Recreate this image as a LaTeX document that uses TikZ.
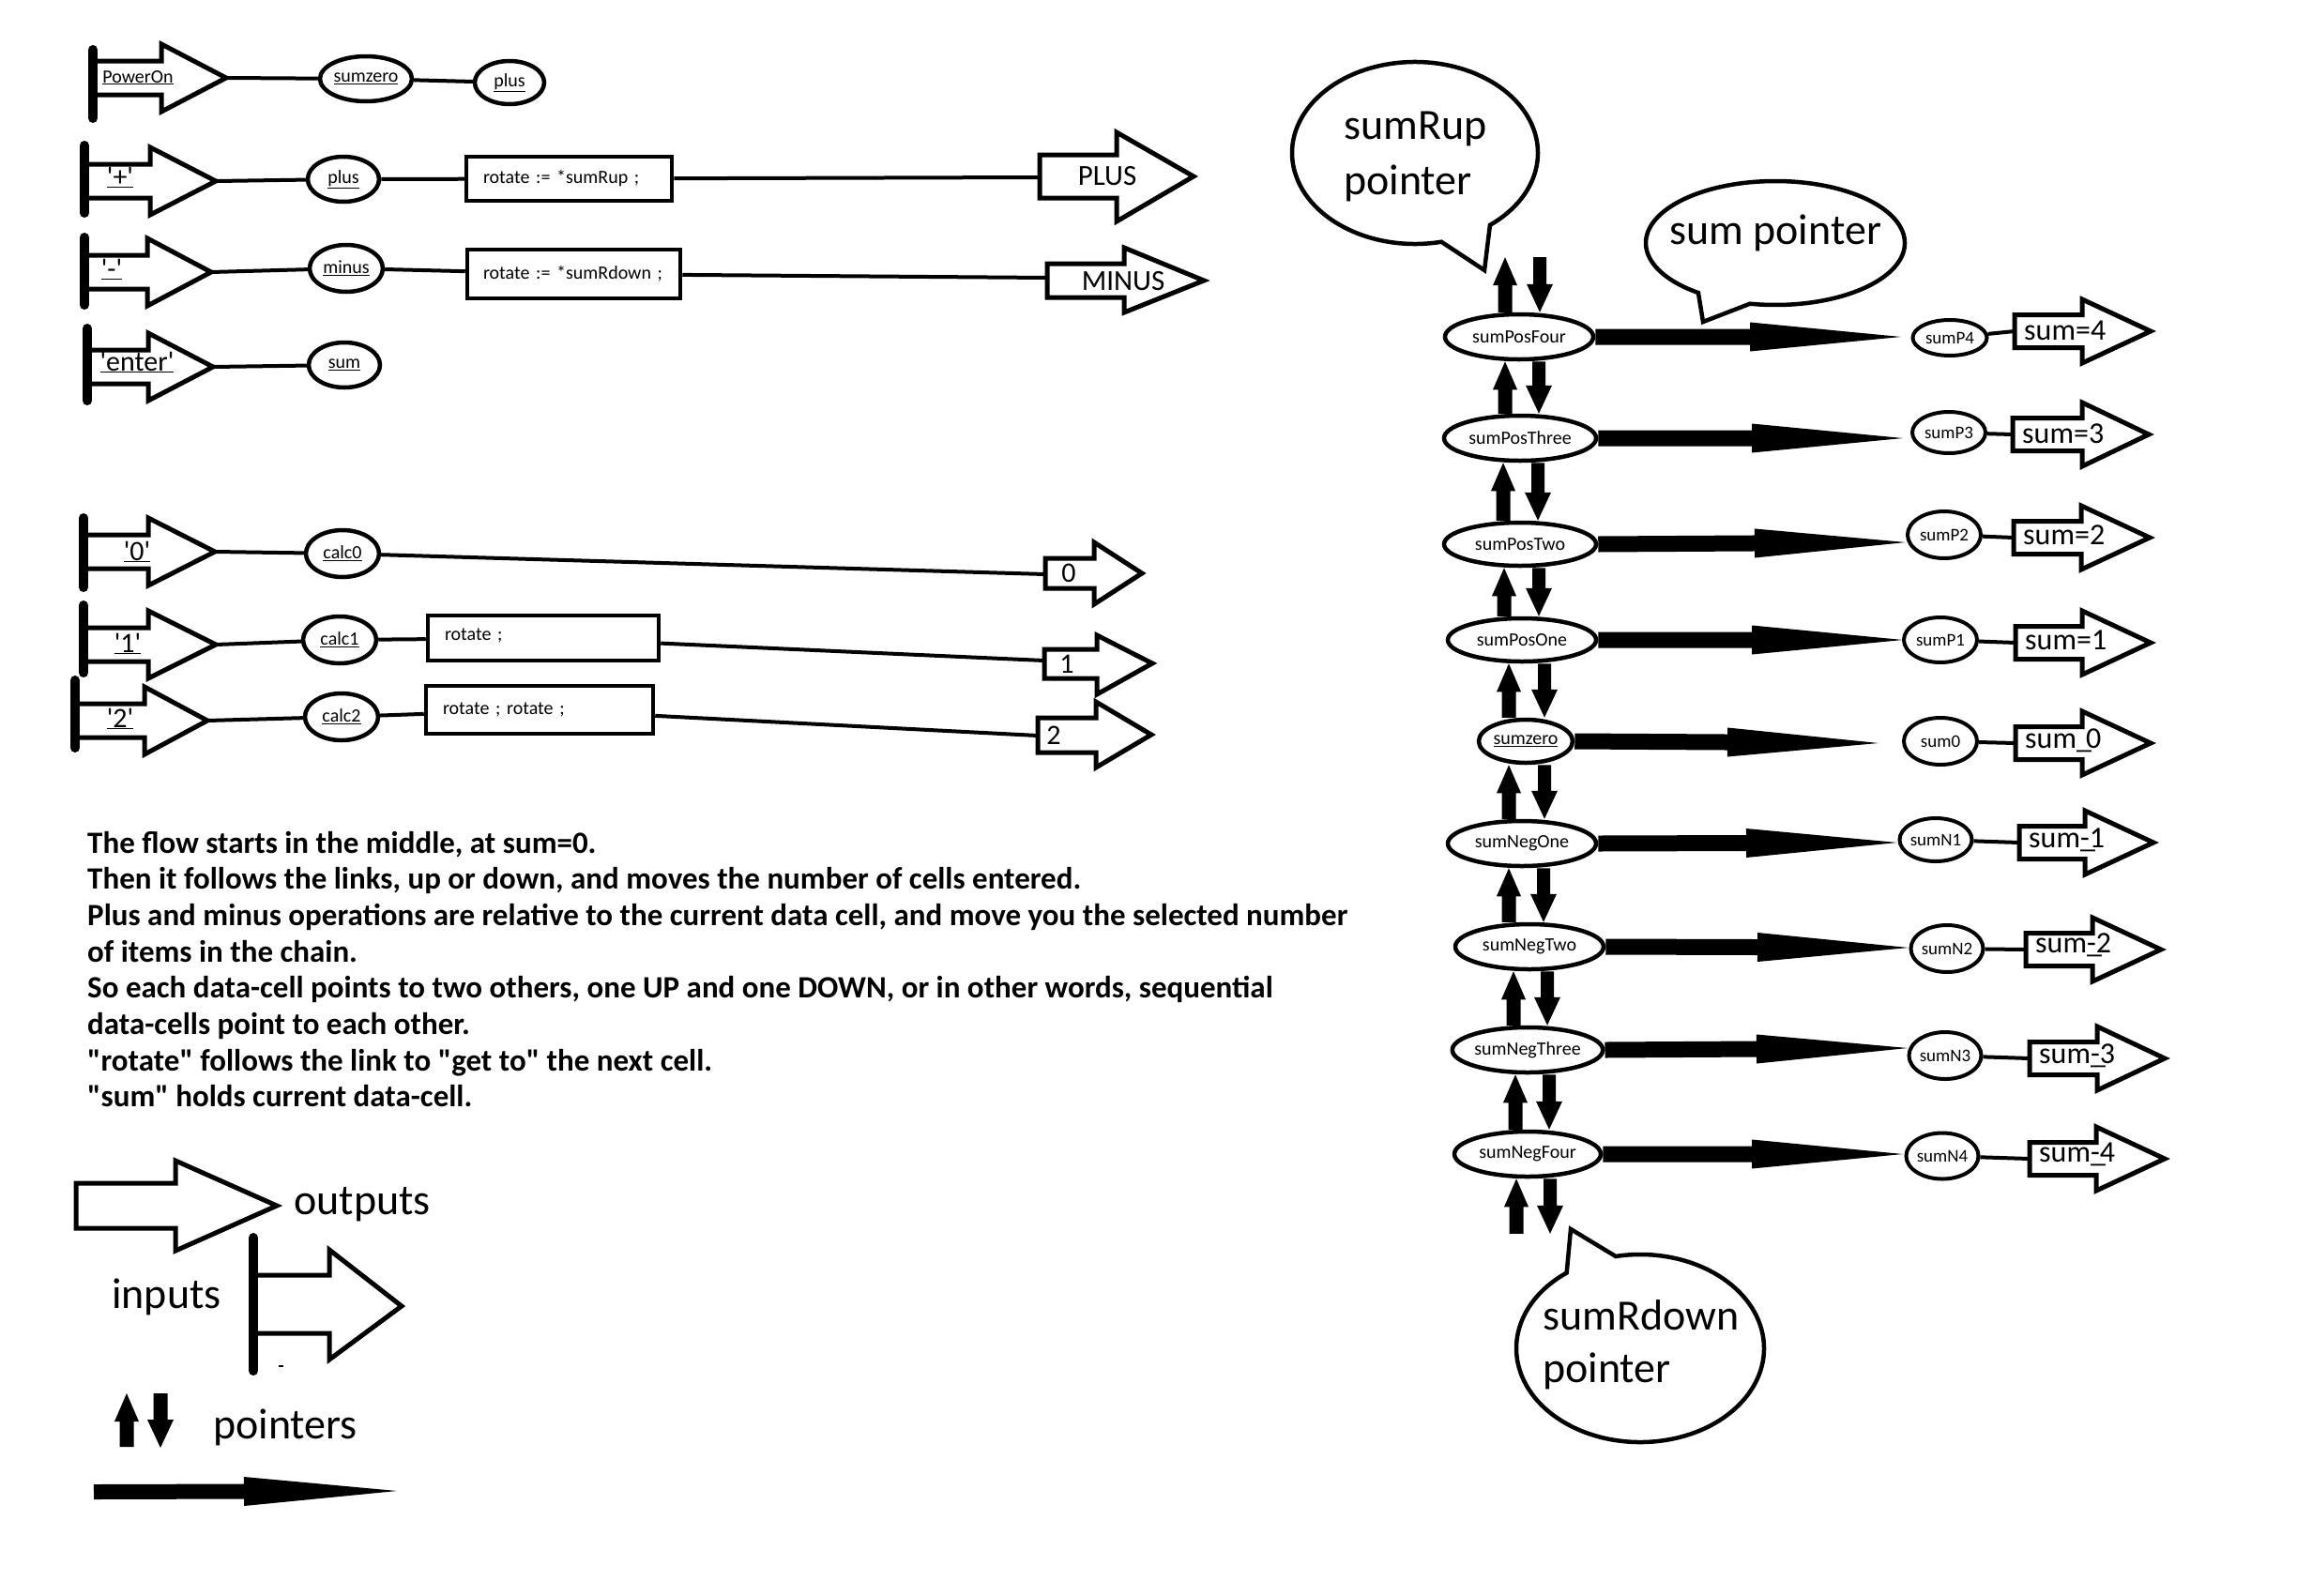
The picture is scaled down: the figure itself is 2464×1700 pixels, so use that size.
\documentclass[tikz,border=0pt]{standalone}
\usepackage{fontspec}
\setmainfont{Carlito}[Ligatures=TeXOff]
\usetikzlibrary{shapes.geometric,calc}

\newcommand\sz[2]{\fontsize{#1}{#2}\selectfont}

\tikzset{
  wire/.style={line width=4pt},
  cellnode/.style={ellipse, draw, line width=4.5pt, fill=white, inner sep=0pt, font=\sz{20}{24}},
  datanode/.style={ellipse, draw, line width=4pt, fill=white, inner sep=0pt, font=\sz{19}{23}},
  opbox/.style={rectangle, draw, line width=4.5pt, fill=white, inner ysep=0pt, align=left, font=\sz{20}{24}},
  blockout/.style={draw, line width=5pt, line join=miter, fill=white},
  openarrow/.style={draw, line width=5pt, line join=miter},
  inbar/.style={line width=10pt, line cap=round},
  inlabel/.style={anchor=base, inner sep=0pt, font=\sz{30}{36}},
  outlabel/.style={inner sep=0pt, font=\sz{31}{37}},
  sumlabel/.style={anchor=base west, inner sep=0pt, font=\sz{32}{38}},
  bubble/.style={draw, line width=4.5pt, fill=white, line join=miter},
  bigtext/.style={anchor=base west, inner sep=0pt, font=\sz{46}{57}},
  anchorpt/.style={inner sep=0pt, minimum size=0pt},
}

% solid arrow: #1 start, #2 tip, #3 half shaft width, #4 half head width, #5 head length
\newcommand\fatarrow[5]{%
  \coordinate (fa-h) at ($(#2)!#5!(#1)$);
  \fill ($(#1)!#3!90:(#2)$) -- ($(fa-h)!#3!90:(#2)$) -- ($(fa-h)!#4!90:(#2)$) -- (#2)
     -- ($(fa-h)!#4!-90:(#2)$) -- ($(fa-h)!#3!-90:(#2)$) -- ($(#1)!#3!-90:(#2)$) -- cycle;}

% pair of UP / DOWN links between two cells: #1 upper, #2 lower, #3 x of up link, #4 x of down link
\newcommand\updown[4]{%
  \path (#3,0) coordinate (ud-u) (#4,0) coordinate (ud-d);
  \coordinate (ud-1) at (ud-u |- #2.north);
  \coordinate (ud-2) at (ud-u |- #1.south);
  \fatarrow{ud-1}{ud-2}{7.5pt}{13pt}{30pt}
  \coordinate (ud-3) at (ud-d |- #1.south);
  \coordinate (ud-4) at (ud-d |- #2.north);
  \fatarrow{ud-3}{ud-4}{7pt}{14pt}{30pt}}

% input arrow with bar: #1 bar x, #2 head base x, #3 tip x, #4 tip y, #5 bar top, #6 bar bottom, #7 tip name
\newcommand\inarrow[7]{%
  \draw[openarrow] (#1,#4-18) -- (#2,#4-18) -- (#2,#4-36) -- (#3,#4) -- (#2,#4+36) -- (#2,#4+18) -- (#1,#4+18);
  \draw[inbar] (#1,#5) -- (#1,#6);
  \coordinate (#7) at (#3,#4);}

% output value arrow: #1 left x, #2 head base x, #3 tip x, #4 centre y, #5 name, #6 text, #7 text baseline
\newcommand\sumarrow[7]{%
  \draw[blockout] (#1,#4-17.5) -- (#2,#4-17.5) -- (#2,#4-34) -- (#3,#4) -- (#2,#4+34) -- (#2,#4+17.5) -- (#1,#4+17.5) -- cycle;
  \node[sumlabel] (#5) at (#1+10,#7) {#6};
  \coordinate (#5in) at (#1,#4);}

% underscore followed closely by a value
\newcommand\usc{\_\kern-6pt}

\begin{document}
\begin{tikzpicture}[x=1pt,y=-1pt]
\useasboundingbox (0,0) rectangle (2464,1700);
\fill[white] (0,0) rectangle (2464,1700);

% ---------------- key inputs ----------------
\inarrow{99}{172}{241}{83}{53}{126}{inPow}
\node[inlabel, font=\sz{20}{24}] (lblPow) at (147,88) {\underline{PowerOn}};
\inarrow{90}{160}{230}{193}{155}{227}{inPlus}
\node[inlabel] (lblPlus) at (128,198) {\underline{'+'}};
\inarrow{90}{157}{225}{290}{253}{325}{inMinus}
\node[inlabel] (lblMinus) at (119,296) {\underline{'-'}};
\inarrow{93}{158}{227}{391}{350}{427}{inEnter}
\node[inlabel] (lblEnter) at (146,395) {\underline{'enter'}};
\inarrow{89}{158}{229}{588}{552}{626}{inZero}
\node[inlabel] (lblZero) at (146,597) {\underline{'0'}};
\inarrow{89}{158}{230}{687}{645}{717}{inOne}
\node[inlabel] (lblOne) at (136,695) {\underline{'1'}};
\inarrow{80}{154}{221}{768}{725}{797}{inTwo}
\node[inlabel] (lblTwo) at (128,775) {\underline{'2'}};

% ---------------- handlers ----------------
\node[cellnode, minimum width=98pt, minimum height=48pt] (sumzeroA) at (390,84) {\underline{sumzero}};
\node[cellnode, minimum width=74pt, minimum height=46pt] (plusA) at (543,88) {\underline{plus}};
\node[cellnode, minimum width=76pt, minimum height=48pt] (plusB) at (366,191) {\underline{plus}};
\node[cellnode, minimum width=78pt, minimum height=50pt] (minusB) at (369,286) {\underline{minus}};
\node[cellnode, minimum width=76pt, minimum height=48pt] (sumB) at (367,389) {\underline{sum}};
\node[cellnode, minimum width=78pt, minimum height=50pt] (calcZero) at (365,590) {\underline{calc0}};
\node[cellnode, minimum width=78pt, minimum height=50pt] (calcOne) at (362,682) {\underline{calc1}};
\node[cellnode, minimum width=78pt, minimum height=50pt] (calcTwo) at (364,764) {\underline{calc2}};

\node[opbox, minimum width=219pt, minimum height=47pt, text width=183pt, inner xsep=18pt] (boxPlus) at (606.5,190.5) {rotate := *sumRup ;};
\node[opbox, minimum width=227pt, minimum height=52pt, text width=193pt, inner xsep=17pt] (boxMinus) at (611.5,292) {rotate := *sumRdown ;};
\node[opbox, minimum width=246pt, minimum height=48pt, text width=210pt, inner xsep=18pt] (boxOne) at (579,680) {\raisebox{7pt}{rotate ;}};
\node[opbox, minimum width=242pt, minimum height=51pt, text width=206pt, inner xsep=18pt] (boxTwo) at (575,756.5) {rotate ; rotate ;};

% ---------------- operation outputs ----------------
\draw[blockout] (1108,165) -- (1190,165) -- (1190,141) -- (1272,188) -- (1190,236) -- (1190,211) -- (1108,211) -- cycle;
\node[outlabel] (outPlus) at (1180,188) {PLUS};
\coordinate (oPlus) at (1108,189);
\draw[blockout] (1116,281) -- (1198,281) -- (1198,264) -- (1283,299) -- (1198,333) -- (1198,317) -- (1116,317) -- cycle;
\node[outlabel] (outMinus) at (1197,300) {MINUS};
\coordinate (oMinus) at (1116,296);
\draw[blockout] (1114,595) -- (1166,595) -- (1166,578) -- (1217,611) -- (1166,644) -- (1166,627) -- (1114,627) -- cycle;
\node[outlabel, font=\sz{30}{36}] (outZero) at (1139,611) {0};
\coordinate (oZero) at (1114,612);
\draw[blockout] (1113,692) -- (1169,692) -- (1169,677) -- (1228,707) -- (1169,740) -- (1169,723) -- (1113,723) -- cycle;
\node[outlabel, font=\sz{30}{36}] (outOne) at (1137,708) {1};
\coordinate (oOne) at (1113,704);
\draw[blockout] (1106,765) -- (1168,765) -- (1168,748) -- (1227,783) -- (1168,818) -- (1168,802) -- (1106,802) -- cycle;
\node[outlabel, font=\sz{30}{36}] (outTwo) at (1123,784) {2};
\coordinate (oTwo) at (1106,784);

% ---------------- left wiring ----------------
\draw[wire] (inPow) -- (sumzeroA);
\draw[wire] (sumzeroA) -- (plusA);
\draw[wire] (inPlus) -- (plusB);
\draw[wire] (plusB) -- (boxPlus);
\draw[wire] (boxPlus) -- (oPlus);
\draw[wire] (inMinus) -- (minusB);
\draw[wire] (minusB) -- (boxMinus);
\draw[wire] (boxMinus) -- (oMinus);
\draw[wire] (inEnter) -- (sumB);
\draw[wire] (inZero) -- (calcZero);
\draw[wire] (calcZero) -- (oZero);
\draw[wire] (inOne) -- (calcOne);
\draw[wire] (calcOne) -- (boxOne);
\draw[wire] (boxOne) -- (oOne);
\draw[wire] (inTwo) -- (calcTwo);
\draw[wire] (calcTwo) -- (boxTwo);
\draw[wire] (boxTwo) -- (oTwo);

% ---------------- notes ----------------
\node[anchor=base west, inner sep=0pt, font=\sz{33}{38.7}\bfseries] (notes) at (93,909) {\vtop{\baselineskip=38.7pt
  \hbox{The flow starts in the middle, at sum=0.}
  \hbox{Then it follows the links, up or down, and moves the number of cells entered.}
  \hbox{Plus and minus operations are relative to the current data cell, and move you the selected number}
  \hbox{of items in the chain.}
  \hbox{So each data-cell points to two others, one UP and one DOWN, or in other words, sequential}
  \hbox{data-cells point to each other.}
  \hbox{"rotate" follows the link to "get to" the next cell.}
  \hbox{"sum" holds current data-cell.}}};

% ---------------- legend ----------------
\draw[blockout] (81,1261) -- (187,1261) -- (187,1237) -- (295,1285) -- (187,1333) -- (187,1309) -- (81,1309) -- cycle;
\node[bigtext] (lgOut) at (313,1294) {outputs};
\draw[openarrow] (270,1359) -- (351,1359) -- (351,1332) -- (428,1392) -- (351,1449) -- (351,1421) -- (270,1421);
\draw[inbar] (270,1319) -- (270,1461);
\fill (297,1455) rectangle (302,1457);
\node[bigtext] (lgIn) at (119,1394) {inputs};
\coordinate (lgUpA) at (135,1542);
\coordinate (lgUpB) at (135,1485);
\fatarrow{lgUpA}{lgUpB}{7.5pt}{13pt}{30pt}
\coordinate (lgDnA) at (171,1485);
\coordinate (lgDnB) at (171,1543);
\fatarrow{lgDnA}{lgDnB}{7.5pt}{14pt}{30pt}
\node[bigtext] (lgPtr) at (227,1533) {pointers};
\coordinate (lgSumA) at (100,1590);
\coordinate (lgSumB) at (423,1589);
\fatarrow{lgSumA}{lgSumB}{8pt}{15.5pt}{163pt}

% ---------------- speech bubbles ----------------
\draw[bubble] (1508,163) ++(77.6:131 and 97) arc[start angle=77.6, end angle=412.4, x radius=131, y radius=97] -- (1582,288) -- cycle;
\node[bigtext] (rupA) at (1432,148) {sumRup};
\node[bigtext] (rupB) at (1432,207) {pointer};
\draw[bubble] (1892,259) ++(126.5:138 and 66) arc[start angle=126.5, end angle=461.3, x radius=138, y radius=66] -- (1815,343) -- cycle;
\node[bigtext] (sptr) at (1779,260) {sum pointer};
\draw[bubble] (1748,1437) ++(258.6:132 and 100) arc[start angle=258.6, end angle=593.6, x radius=132, y radius=100] -- (1674,1310) -- cycle;
\node[bigtext] (rdnA) at (1644,1417) {sumRdown};
\node[bigtext] (rdnB) at (1644,1473) {pointer};

% ---------------- data-cell chain ----------------
\node[cellnode, minimum width=158pt, minimum height=48pt] (c4) at (1619,359) {sumPosFour};
\node[cellnode, minimum width=162pt, minimum height=48pt] (c3) at (1620,467) {sumPosThree};
\node[cellnode, minimum width=162pt, minimum height=46pt] (c2) at (1620,580) {sumPosTwo};
\node[cellnode, minimum width=158pt, minimum height=46pt] (c1) at (1622,682) {sumPosOne};
\node[cellnode, minimum width=100pt, minimum height=46pt] (c0) at (1626,790) {\underline{sumzero}};
\node[cellnode, minimum width=158pt, minimum height=48pt] (cm1) at (1622,899) {sumNegOne};
\node[cellnode, minimum width=158pt, minimum height=48pt] (cm2) at (1630,1009) {sumNegTwo};
\node[cellnode, minimum width=156pt, minimum height=48pt] (cm3) at (1628,1119) {sumNegThree};
\node[cellnode, minimum width=156pt, minimum height=48pt] (cm4) at (1628,1230) {sumNegFour};
\node[anchorpt] (ptrTop) at (1622,274) {};
\node[anchorpt] (ptrBot) at (1634,1315) {};

\updown{ptrTop}{c4}{1604}{1641}
\updown{c4}{c3}{1604}{1640}
\updown{c3}{c2}{1602}{1639}
\updown{c2}{c1}{1603}{1640}
\updown{c1}{c0}{1608}{1646}
\updown{c0}{cm1}{1608}{1646}
\updown{cm1}{cm2}{1608}{1645}
\updown{cm2}{cm3}{1613}{1649}
\updown{cm3}{cm4}{1615}{1651}
\updown{cm4}{ptrBot}{1616}{1652}

% value cells
\node[datanode, minimum width=79pt, minimum height=38pt] (d4) at (2078,360) {sumP4};
\node[datanode, minimum width=78pt, minimum height=44pt] (d3) at (2077,461) {sumP3};
\node[datanode, minimum width=78pt, minimum height=50pt] (d2) at (2072,570) {sumP2};
\node[datanode, minimum width=78pt, minimum height=48pt] (d1) at (2068,682) {sumP1};
\node[datanode, minimum width=78pt, minimum height=50pt] (d0) at (2068,790) {sum0};
\node[datanode, minimum width=75pt, minimum height=46pt] (dm1) at (2063,895) {sumN1};
\node[datanode, minimum width=75pt, minimum height=50pt] (dm2) at (2075,1011) {sumN2};
\node[datanode, minimum width=76pt, minimum height=50pt] (dm3) at (2073,1125) {sumN3};
\node[datanode, minimum width=75pt, minimum height=49pt] (dm4) at (2070,1232) {sumN4};

% sum pointers from each cell
\coordinate (t4) at (2026,359);
\coordinate (t3) at (2028,467);
\coordinate (t2) at (2031,578);
\coordinate (t1) at (2028,682);
\coordinate (t0) at (2002,792);
\coordinate (tm1) at (2022,898);
\coordinate (tm2) at (2034,1010);
\coordinate (tm3) at (2033,1117);
\coordinate (tm4) at (2028,1230);
\fatarrow{c4.east}{t4}{8.5pt}{15.5pt}{161pt}
\fatarrow{c3.east}{t3}{8.5pt}{15.5pt}{161pt}
\fatarrow{c2.east}{t2}{8.5pt}{15.5pt}{161pt}
\fatarrow{c1.east}{t1}{8.5pt}{15.5pt}{161pt}
\fatarrow{c0.east}{t0}{8.5pt}{15.5pt}{161pt}
\fatarrow{cm1.east}{tm1}{8.5pt}{15.5pt}{161pt}
\fatarrow{cm2.east}{tm2}{8.5pt}{15.5pt}{161pt}
\fatarrow{cm3.east}{tm3}{8.5pt}{15.5pt}{161pt}
\fatarrow{cm4.east}{tm4}{8.5pt}{15.5pt}{161pt}

% value outputs
\sumarrow{2147}{2219}{2292}{353}{sFour}{sum=4}{362}
\sumarrow{2145}{2219}{2290}{463}{sThree}{sum=3}{472}
\sumarrow{2146}{2218}{2291}{573}{sTwo}{sum=2}{580}
\sumarrow{2148}{2219}{2292}{685}{sOne}{sum=1}{692}
\sumarrow{2148}{2219}{2292}{792}{sZero}{sum\usc 0}{797}
\sumarrow{2152}{2222}{2295}{898}{sNOne}{sum\rlap{\_}-1}{903}
\sumarrow{2159}{2230}{2303}{1012}{sNTwo}{sum\rlap{\_}-2}{1015}
\sumarrow{2163}{2235}{2307}{1128}{sNThree}{sum\rlap{\_}-3}{1133}
\sumarrow{2163}{2234}{2307}{1235}{sNFour}{sum\rlap{\_}-4}{1238}

\draw[wire] (d4) -- (sFourin);
\draw[wire] (d3) -- (sThreein);
\draw[wire] (d2) -- (sTwoin);
\draw[wire] (d1) -- (sOnein);
\draw[wire] (d0) -- (sZeroin);
\draw[wire] (dm1) -- (sNOnein);
\draw[wire] (dm2) -- (sNTwoin);
\draw[wire] (dm3) -- (sNThreein);
\draw[wire] (dm4) -- (sNFourin);
\end{tikzpicture}
\end{document}
